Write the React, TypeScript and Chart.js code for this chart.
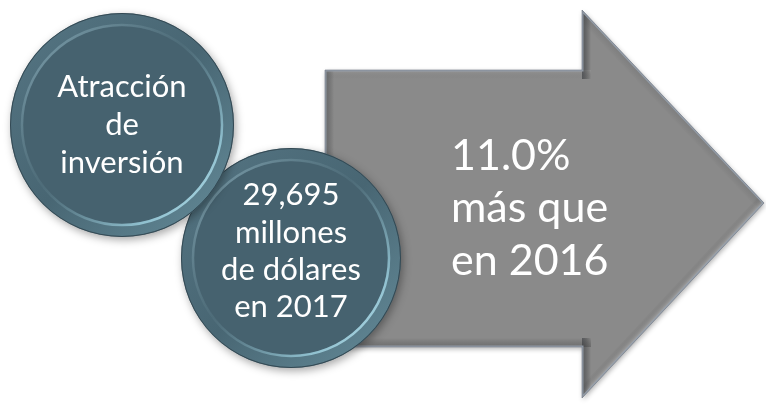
import React, { useEffect, useRef } from "react";
import { Chart, registerables } from "chart.js";

Chart.register(...registerables);

// ---- data ----
const circle1Lines = ["Atracción", "de", "inversión"];
const circle2Lines = ["29,695", "millones", "de dólares", "en 2017"];
const arrowLines = ["11.0%", "más que", "en 2016"];

const circleX = [122, 291];
const circleY = [125, 258];
const circleR = [112, 110];

const arrowX = [325, 582, 582, 764, 582, 582, 325];
const arrowY = [70, 70, 10, 203, 398, 347, 347];

const W = 766;
const H = 404;
const FONT = "Lato, 'Open Sans', sans-serif";

// bevel tint for each arrow edge (edge i goes from point i to point i+1)
const edgeTints = [
  "rgba(255,255,255,0.10)",
  "rgba(40,44,50,0.55)",
  "rgba(40,44,50,0.12)",
  "rgba(255,255,255,0.30)",
  "rgba(40,44,50,0.50)",
  "rgba(40,40,40,0.28)",
  "rgba(40,44,50,0.35)",
];

function drawCircle(ctx: CanvasRenderingContext2D, cx: number, cy: number, r: number, lines: string[], offsets: number[]) {
  ctx.save();
  ctx.shadowColor = "rgba(0,0,0,0.35)";
  ctx.shadowBlur = 8;
  ctx.shadowOffsetX = 2;
  ctx.shadowOffsetY = 3;
  ctx.beginPath();
  ctx.arc(cx, cy, r, 0, Math.PI * 2);
  ctx.fillStyle = "#4a6875";
  ctx.fill();
  ctx.restore();

  ctx.save();
  const ring = ctx.createLinearGradient(cx - r, cy - r, cx + r, cy + r);
  ring.addColorStop(0, "#557583");
  ring.addColorStop(0.5, "#486673");
  ring.addColorStop(1, "#658c9a");
  ctx.beginPath();
  ctx.arc(cx, cy, r - 1, 0, Math.PI * 2);
  ctx.fillStyle = ring;
  ctx.fill();

  const ri = r - 13;
  ctx.beginPath();
  ctx.arc(cx, cy, ri, 0, Math.PI * 2);
  ctx.fillStyle = "#46626f";
  ctx.fill();

  const hl = ctx.createLinearGradient(cx - ri, cy - ri, cx + ri, cy + ri);
  hl.addColorStop(0, "rgba(140,175,188,0.85)");
  hl.addColorStop(0.45, "rgba(90,120,132,0.3)");
  hl.addColorStop(0.8, "rgba(150,200,215,0.9)");
  hl.addColorStop(1, "rgba(190,230,240,1)");
  ctx.beginPath();
  ctx.arc(cx, cy, ri + 1, 0, Math.PI * 2);
  ctx.lineWidth = 2.5;
  ctx.strokeStyle = hl;
  ctx.stroke();

  ctx.beginPath();
  ctx.arc(cx, cy, r - 0.5, 0, Math.PI * 2);
  ctx.lineWidth = 1;
  ctx.strokeStyle = "rgba(45,65,75,0.8)";
  ctx.stroke();

  ctx.fillStyle = "#ffffff";
  ctx.font = `31px ${FONT}`;
  ctx.textAlign = "center";
  ctx.textBaseline = "alphabetic";
  lines.forEach((t, i) => ctx.fillText(t, cx, cy + offsets[i]));
  ctx.restore();
}

function polyPath(ctx: CanvasRenderingContext2D, pts: { x: number; y: number }[]) {
  ctx.beginPath();
  pts.forEach((p, i) => (i === 0 ? ctx.moveTo(p.x, p.y) : ctx.lineTo(p.x, p.y)));
  ctx.closePath();
}

function drawArrow(ctx: CanvasRenderingContext2D, pts: { x: number; y: number }[]) {
  ctx.save();
  ctx.shadowColor = "rgba(0,0,0,0.3)";
  ctx.shadowBlur = 5;
  ctx.shadowOffsetX = 1;
  ctx.shadowOffsetY = 2;
  polyPath(ctx, pts);
  ctx.fillStyle = "#8a8a8a";
  ctx.fill();
  ctx.restore();

  ctx.save();
  polyPath(ctx, pts);
  ctx.clip();
  const bw = 9;
  for (let i = 0; i < pts.length; i++) {
    const a = pts[i];
    const b = pts[(i + 1) % pts.length];
    const dx = b.x - a.x;
    const dy = b.y - a.y;
    const len = Math.hypot(dx, dy);
    const nx = -dy / len;
    const ny = dx / len;
    const mx = (a.x + b.x) / 2;
    const my = (a.y + b.y) / 2;
    const g = ctx.createLinearGradient(mx, my, mx + nx * bw, my + ny * bw);
    g.addColorStop(0, edgeTints[i]);
    g.addColorStop(1, "rgba(0,0,0,0)");
    ctx.beginPath();
    ctx.moveTo(a.x - dx / len * bw, a.y - dy / len * bw);
    ctx.lineTo(b.x + dx / len * bw, b.y + dy / len * bw);
    ctx.lineTo(b.x + dx / len * bw + nx * bw, b.y + dy / len * bw + ny * bw);
    ctx.lineTo(a.x - dx / len * bw + nx * bw, a.y - dy / len * bw + ny * bw);
    ctx.closePath();
    ctx.fillStyle = g;
    ctx.fill();
  }
  polyPath(ctx, pts);
  ctx.lineWidth = 3;
  ctx.strokeStyle = "rgba(150,160,172,0.9)";
  ctx.stroke();
  ctx.restore();

  ctx.save();
  polyPath(ctx, pts);
  ctx.lineWidth = 0.8;
  ctx.strokeStyle = "rgba(120,128,140,0.8)";
  ctx.stroke();
  ctx.restore();

  ctx.save();
  ctx.fillStyle = "#ffffff";
  ctx.font = `43px ${FONT}`;
  ctx.textAlign = "left";
  ctx.textBaseline = "alphabetic";
  const left = pts[0].x + 126;
  const baselines = [170, 222, 275];
  arrowLines.forEach((t, i) => ctx.fillText(t, left, baselines[i]));
  ctx.restore();
}

const customDraw = {
  id: "customDraw",
  beforeDatasetDraw(chart: any, args: any) {
    const ctx = chart.ctx as CanvasRenderingContext2D;
    const meta = args.meta;
    const idx = args.index;
    ctx.save();
    ctx.beginPath();
    ctx.rect(0, 0, chart.width, chart.height);
    ctx.clip();
    if (idx === 0) {
      const pts = meta.data.map((p: any) => ({ x: p.x, y: p.y }));
      drawArrow(ctx, pts);
    } else {
      const el = meta.data[0];
      const r = el.options.radius;
      if (idx === 1) drawCircle(ctx, el.x, el.y, r, circle2Lines, [-53, -15, 22, 59]);
      else drawCircle(ctx, el.x, el.y, r, circle1Lines, [-28, 10, 48]);
    }
    ctx.restore();
    return false;
  },
};

export default function App() {
  const ref = useRef<HTMLCanvasElement | null>(null);
  useEffect(() => {
    document.body.style.margin = "0";
    document.body.style.background = "#ffffff";
    const chart = new Chart(ref.current as HTMLCanvasElement, {
      type: "bubble",
      data: {
        datasets: [
          {
            type: "line",
            label: "arrow",
            data: arrowX.map((x, i) => ({ x, y: arrowY[i] })),
            order: 3,
            clip: false,
          } as any,
          {
            label: "circle2",
            data: [{ x: circleX[1], y: circleY[1], r: circleR[1] }],
            order: 2,
            clip: false,
          } as any,
          {
            label: "circle1",
            data: [{ x: circleX[0], y: circleY[0], r: circleR[0] }],
            order: 1,
            clip: false,
          } as any,
        ],
      },
      options: {
        animation: false,
        responsive: false,
        devicePixelRatio: 1,
        events: [],
        layout: { padding: 0, autoPadding: false },
        plugins: { legend: { display: false }, tooltip: { enabled: false } },
        scales: {
          x: { type: "linear", min: 0, max: W, display: false },
          y: { type: "linear", min: 0, max: H, reverse: true, display: false },
        },
      } as any,
      plugins: [customDraw],
    });
    return () => chart.destroy();
  }, []);
  return (
    <div style={{ position: "absolute", left: 0, top: 0, width: W, height: H }}>
      <canvas ref={ref} width={W} height={H} style={{ width: W, height: H, display: "block" }} />
    </div>
  );
}
